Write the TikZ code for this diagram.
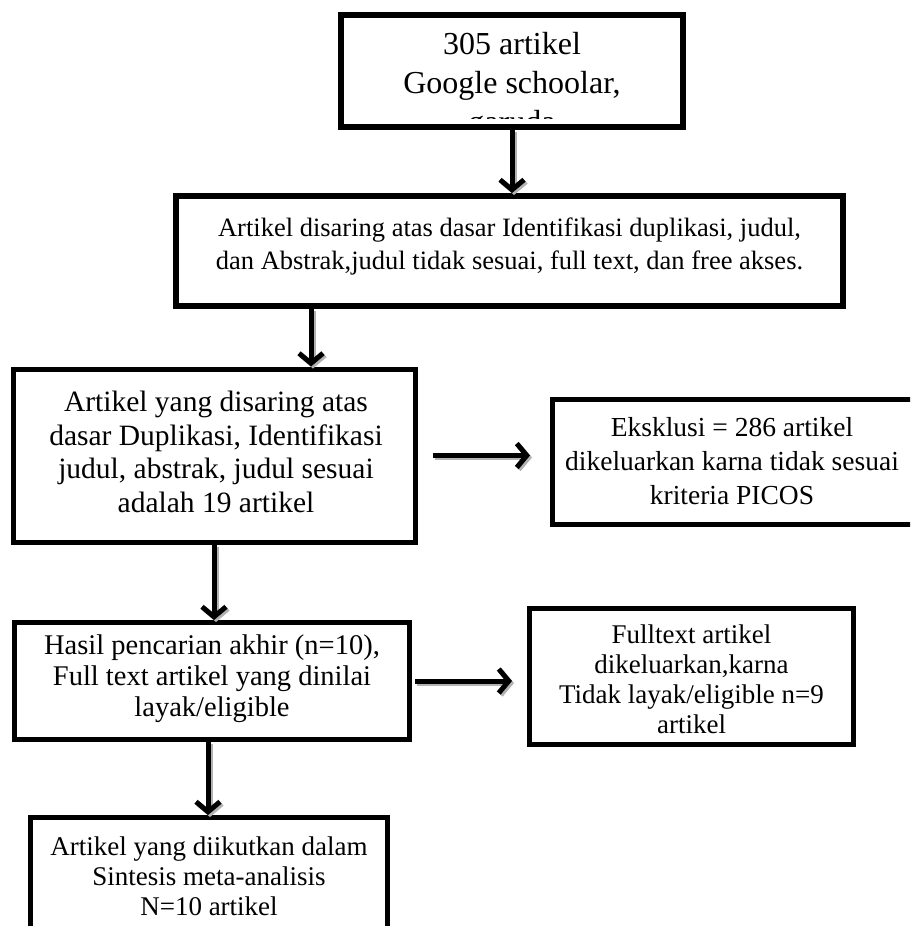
\documentclass[tikz,border=0pt]{standalone}
\usepackage{fontspec}
\setmainfont{Liberation Serif}
\usetikzlibrary{arrows.meta}
\tikzset{
  box/.style={draw=black, line width=6pt, inner sep=0pt, rectangle},
  boxt/.style={box, line width=5pt},
  txt/.style={align=center, inner sep=0pt},
  flow/.style={draw=black, line width=5pt, -{Straight Barb[length=10pt,width=24pt]}},
  shade/.style={draw=gray!60, line width=5pt, -{Straight Barb[length=10pt,width=24pt]}, transform canvas={shift={(2,2)}}},
}
\begin{document}
\begin{tikzpicture}[x=1pt,y=-1pt]
\clip (0,0) rectangle (910,926);
\fill[white] (0,0) rectangle (910,926);

% boxes
\node[box, minimum width=342pt, minimum height=112pt] (b1) at (512,71) {};
\node[box, minimum width=667pt, minimum height=110pt] (b2) at (509.5,251) {};
\node[boxt, minimum width=402pt, minimum height=173pt] (b3) at (214,455.5) {};
\node[boxt, minimum width=380pt, minimum height=125pt] (b4) at (742.5,462) {};
\node[boxt, minimum width=395pt, minimum height=117pt] (b5) at (212,681) {};
\node[boxt, minimum width=324pt, minimum height=136pt] (b6) at (691.5,676.5) {};
\node[boxt, minimum width=357pt, minimum height=140pt] (b7) at (209,887.5) {};

% texts
\node[txt, font=\fontsize{26.5}{33}\selectfont] (t2) at (509.5,246)
  {Artikel disaring atas dasar Identifikasi duplikasi, judul,\\dan Abstrak,judul tidak sesuai, full text, dan free akses.};
\node[txt, font=\fontsize{29.5}{33.5}\selectfont] (t3) at (216,452)
  {Artikel yang disaring atas\\dasar Duplikasi, Identifikasi\\judul, abstrak, judul sesuai\\adalah 19 artikel};
\node[txt, font=\fontsize{27.5}{34}\selectfont] (t4) at (732,461)
  {Eksklusi = 286 artikel\\dikeluarkan karna tidak sesuai\\kriteria PICOS};
\node[txt, font=\fontsize{28.5}{31}\selectfont] (t5) at (212,679)
  {Hasil pencarian akhir (n=10),\\Full text artikel yang dinilai\\layak/eligible};
\node[txt, font=\fontsize{27}{30}\selectfont] (t6) at (691.5,679)
  {Fulltext artikel\\dikeluarkan,karna\\Tidak layak/eligible n=9\\artikel};
\node[txt, font=\fontsize{27}{30}\selectfont] (t7) at (209,876)
  {Artikel yang diikutkan dalam\\Sintesis meta-analisis\\N=10 artikel};

% clipped text of the first box
\begin{scope}
  \clip (341,15) rectangle (683,118);
  \node[txt, font=\fontsize{32}{39}\selectfont] (t1) at (512,86)
    {305 artikel\\Google schoolar,\\garuda};
\end{scope}

% connector x positions
\coordinate (x2) at (311,0);
\coordinate (x3) at (214,0);
\coordinate (x4) at (208,0);

% shadows
\draw[shade] (b1.south) -- (b1.south |- b2.north);
\draw[shade] (b2.south -| x2) -- (b3.north -| x2);
\draw[shade] ([xshift=15pt]b3.east) -- ([xshift=-20pt]b4.west |- b3.east);
\draw[shade] (b3.south -| x3) -- (b5.north -| x3);
\draw[shade] ([xshift=3pt]b5.east) -- ([xshift=-15pt]b6.west |- b5.east);
\draw[shade] (b5.south -| x4) -- (b7.north -| x4);
% arrows
\draw[flow] (b1.south) -- (b1.south |- b2.north);
\draw[flow] (b2.south -| x2) -- (b3.north -| x2);
\draw[flow] ([xshift=15pt]b3.east) -- ([xshift=-20pt]b4.west |- b3.east);
\draw[flow] (b3.south -| x3) -- (b5.north -| x3);
\draw[flow] ([xshift=3pt]b5.east) -- ([xshift=-15pt]b6.west |- b5.east);
\draw[flow] (b5.south -| x4) -- (b7.north -| x4);
\end{tikzpicture}
\end{document}
